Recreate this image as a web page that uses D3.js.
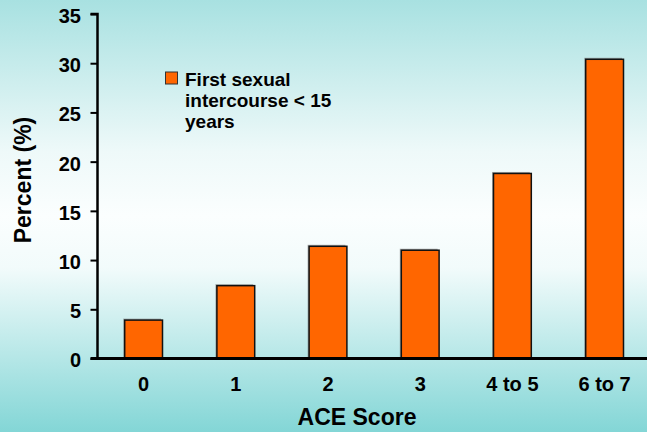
<!DOCTYPE html>
<html><head><meta charset="utf-8">
<script src="https://cdn.jsdelivr.net/npm/d3@7"></script>
<style>html,body{margin:0;padding:0;}svg{display:block;}</style>
</head><body>
<script>
const categories = ["0", "1", "2", "3", "4 to 5", "6 to 7"];
const values = [3.9, 7.4, 11.4, 11.0, 18.8, 30.4];
const yTicks = [0, 5, 10, 15, 20, 25, 30, 35];
const seriesName = ["First sexual", "intercourse < 15", "years"];

const W = 647, H = 432;
const svg = d3.select("body").append("svg").attr("width", W).attr("height", H);
const defs = svg.append("defs");
const g = defs.append("linearGradient").attr("id", "bg").attr("x1", 0).attr("y1", 0).attr("x2", 0).attr("y2", 1);
[[0, "#a8e1e1"], [0.35, "#eef9f9"], [0.5, "#fbfefe"], [0.62, "#f2fbfb"], [1, "#83d6d6"]].forEach(([o, c]) =>
  g.append("stop").attr("offset", o).attr("stop-color", c));
svg.append("rect").attr("width", W).attr("height", H).attr("fill", "url(#bg)");

const font = "'Liberation Sans', Arial, sans-serif";
const x0 = 97.5, yBase = 358.5, yTop = 14;
const x = d3.scaleBand().domain(categories).range([x0, x0 + 6 * 92.2]).paddingInner(0.59).paddingOuter(0.295);
const y = d3.scaleLinear().domain([0, 35]).range([yBase, yTop]);

// bars
const bars = svg.append("g");
bars.selectAll("rect.sh").data(values).join("rect")
  .attr("x", (d, i) => x(categories[i]) - 1.5)
  .attr("y", d => y(d) - 1.5)
  .attr("width", x.bandwidth())
  .attr("height", d => yBase - y(d))
  .attr("fill", "#7a7a7a").attr("opacity", 0.6);
bars.selectAll("rect.b").data(values).join("rect")
  .attr("x", (d, i) => x(categories[i]))
  .attr("y", d => y(d))
  .attr("width", x.bandwidth())
  .attr("height", d => yBase - y(d))
  .attr("fill", "#ff6600").attr("stroke", "#111").attr("stroke-width", 1.5);

// y axis
const yAxis = d3.axisLeft(y).tickValues(yTicks).tickSize(7).tickPadding(9.5).tickFormat(d3.format("d"));
const ya = svg.append("g").attr("transform", `translate(${x0},0)`).call(yAxis);
ya.select(".domain").attr("stroke", "#000").attr("stroke-width", 2.5).attr("d", `M-7,${yTop}H0V${yBase}`);
ya.selectAll(".tick line").attr("stroke", "#000").attr("stroke-width", 2);
ya.selectAll(".tick text").attr("font-family", font).attr("font-weight", "bold").attr("font-size", 20)
  .attr("fill", "#000").attr("dy", "0.42em");

// x axis
const xAxis = d3.axisBottom(x).tickSize(0).tickPadding(18.5);
const xa = svg.append("g").attr("transform", `translate(0,${yBase})`).call(xAxis);
xa.select(".domain").attr("stroke", "#000").attr("stroke-width", 3).attr("d", `M${x0 - 7},0H${W}`);
xa.selectAll(".tick text").attr("font-family", font).attr("font-weight", "bold").attr("font-size", 20).attr("fill", "#000");

// axis titles
svg.append("text").attr("x", 357).attr("y", 425).attr("text-anchor", "middle")
  .attr("font-family", font).attr("font-weight", "bold").attr("font-size", 23).text("ACE Score");
svg.append("text").attr("transform", "translate(31,180) rotate(-90)").attr("text-anchor", "middle")
  .attr("font-family", font).attr("font-weight", "bold").attr("font-size", 23).text("Percent (%)");

// legend
const lg = svg.append("g");
lg.append("rect").attr("x", 165.5).attr("y", 72).attr("width", 12).attr("height", 12)
  .attr("fill", "#ff6600").attr("stroke", "#333").attr("stroke-width", 1);
lg.selectAll("text").data(seriesName).join("text")
  .attr("x", 185).attr("y", (d, i) => 86 + i * 21)
  .attr("font-family", font).attr("font-weight", "bold").attr("font-size", 19).text(d => d);
</script>
</body></html>
